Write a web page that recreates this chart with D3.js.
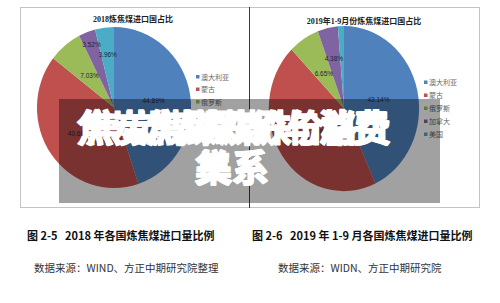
<!DOCTYPE html>
<html>
<head>
<meta charset="utf-8">
<script src="https://d3js.org/d3.v7.min.js"></script>
<style>
  body { margin: 0; background: #fff; }
  svg { display: block; }
</style>
</head>
<body>
<div id="chart"></div>
<script>
// data
const countries = ["澳大利亚", "蒙古", "俄罗斯", "加拿大", "美国"];
const share2018 = [44.89, 40.60, 7.03, 3.52, 3.96];
const share2019 = [43.14, 44.53, 6.65, 4.38, 1.30];
const labels2018 = ["44.89%", "40.60%", "7.03%", "3.52%", "3.96%"];
const labels2019 = ["43.14%", "44.53%", "6.65%", "4.38%", ""];
const titles = ["2018炼焦煤进口国占比", "2019年1-9月份炼焦煤进口国占比"];
const captions = ["图 2-5\u00a0\u00a0\u00a02018 年各国炼焦煤进口量比例", "图 2-6\u00a0\u00a0\u00a02019 年 1-9 月各国炼焦煤进口量比例"];
const sources = ["数据来源：WIND、方正中期研究院整理", "数据来源：WIDN、方正中期研究院"];
const colors = ["#4F81BD", "#C0504D", "#9BBB59", "#8064A2", "#4BACC6"];

const W = 500, H = 303;
const svg = d3.select("#chart").append("svg").attr("width", W).attr("height", H);

// frame
svg.append("rect").attr("x", 20.5).attr("y", 7.5).attr("width", 459).attr("height", 200)
  .attr("fill", "#fff").attr("stroke", "#c4c4c4");
svg.append("line").attr("x1", 249.5).attr("x2", 249.5).attr("y1", 7).attr("y2", 208)
  .attr("stroke", "#3a3a3a");

const charts = [
  {values: share2018, labels: labels2018, title: titles[0], titleX: 133, titleY: 22,
   cx: 114, cy: 107.5, rx: 77, ry: 80.5, legX: 198, legY: 77, legStep: 12.5,
   labR: [0.52, 0.56, 0.5, 0.83, 0.66]},
  {values: share2019, labels: labels2019, title: titles[1], titleX: 364, titleY: 23.5,
   cx: 344, cy: 108.5, rx: 75, ry: 82.5, legX: 426, legY: 82.5, legStep: 13,
   labR: [0.47, 0.5, 0.5, 0.62, 0.6]}
];

const pie = d3.pie().sort(null).value(d => d);

charts.forEach(c => {
  const g = svg.append("g");
  g.append("text").attr("x", c.titleX).attr("y", c.titleY)
    .attr("text-anchor", "middle")
    .attr("font-family", "'Liberation Serif', 'Noto Sans CJK SC', serif")
    .attr("font-weight", "bold").attr("font-size", 8).attr("fill", "#222")
    .text(c.title);

  const arcs = pie(c.values);
  const arc = d3.arc().innerRadius(0).outerRadius(1);
  const pg = g.append("g")
    .attr("transform", "translate(" + c.cx + "," + c.cy + ") scale(" + c.rx + "," + c.ry + ")");
  pg.selectAll("path").data(arcs).enter().append("path")
    .attr("d", arc)
    .attr("fill", (d, i) => colors[i]);

  arcs.forEach((d, i) => {
    if (!c.labels[i]) return;
    const a = (d.startAngle + d.endAngle) / 2;
    const r = c.labR[i];
    g.append("text")
      .attr("x", c.cx + Math.sin(a) * r * c.rx)
      .attr("y", c.cy - Math.cos(a) * r * c.ry + 2)
      .attr("text-anchor", "middle")
      .attr("font-family", "'Liberation Sans', sans-serif")
      .attr("font-size", 6.5).attr("fill", "#1d2540")
      .text(c.labels[i]);
  });

  const lg = g.selectAll(".leg").data(countries).enter().append("g")
    .attr("transform", (d, i) => "translate(" + c.legX + "," + (c.legY + i * c.legStep) + ")");
  lg.append("rect").attr("x", -2).attr("y", -2).attr("width", 3.5).attr("height", 3.5)
    .attr("fill", (d, i) => colors[i]);
  lg.append("text").attr("x", 3).attr("y", 2.6)
    .attr("font-family", "'Noto Sans CJK SC', sans-serif")
    .attr("font-size", 7).attr("fill", "#666")
    .text(d => d);
});

// dark translucent banner
svg.append("rect").attr("x", 59).attr("y", 99).attr("width", 381).attr("height", 104)
  .attr("fill", "#000").attr("opacity", 0.37);

// overlapping headline text
const head = svg.append("g")
  .attr("font-family", "'Noto Sans CJK SC', sans-serif")
  .attr("font-weight", "bold").attr("font-size", 37).attr("fill", "#fff")
  .attr("stroke", "#fff").attr("stroke-width", 1.6).attr("stroke-linejoin", "round")
  .attr("text-anchor", "middle");
head.append("text").attr("x", 232).attr("y", 142).attr("letter-spacing", -2.5).text("焦炭焦煤跌价与消费");
head.append("text").attr("x", 236).attr("y", 142).attr("letter-spacing", -4).text("焦 炭煤跌煤跌价格费");
head.append("text").attr("x", 232).attr("y", 182).text("关系");
head.append("text").attr("x", 232).attr("y", 182).text("集系");

// captions
svg.selectAll(".cap").data(captions).enter().append("text")
  .attr("x", (d, i) => i === 0 ? 27 : 252).attr("y", 240)
  .attr("font-family", "'Noto Sans CJK SC', sans-serif")
  .attr("font-weight", "bold").attr("font-size", 11).attr("fill", "#111")
  .text(d => d);

svg.selectAll(".src").data(sources).enter().append("text")
  .attr("x", (d, i) => i === 0 ? 34 : 278).attr("y", 272)
  .attr("font-family", "'Noto Sans CJK SC', sans-serif")
  .attr("font-size", 10.5).attr("fill", "#333")
  .text(d => d);
</script>
</body>
</html>
